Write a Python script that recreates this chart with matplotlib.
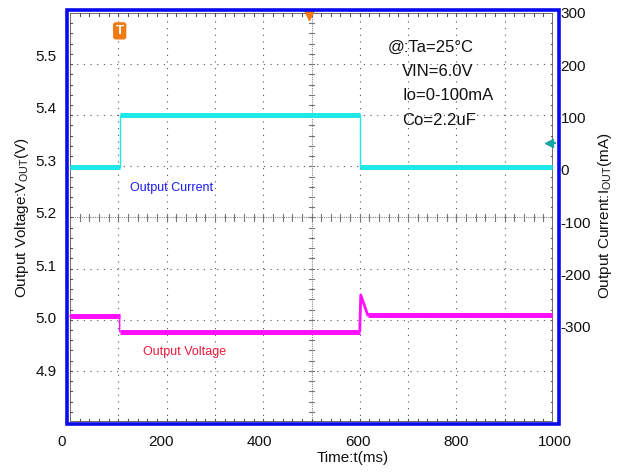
import numpy as np
import matplotlib
matplotlib.use("Agg")
import matplotlib.pyplot as plt
from matplotlib.patches import Rectangle

plt.rcParams['font.family'] = ['Liberation Sans', 'DejaVu Sans']
plt.rcParams['axes.unicode_minus'] = False

# trace data
cur_t = [16, 117, 117, 604, 604, 994]          # ms
cur_mA = [5, 5, 105, 105, 5, 5]                # mA
volt_t = [16, 117, 117, 604, 604, 606, 620, 994]
volt_v = [5.003, 5.003, 4.973, 4.973, 4.975, 5.043, 5.005, 5.005]

x_ticks = [0, 200, 400, 600, 800, 1000]
v_ticks = [4.9, 5.0, 5.1, 5.2, 5.3, 5.4, 5.5]
i_ticks = [-300, -200, -100, 0, 100, 200, 300]

notes = ["@:Ta=25°C", "VIN=6.0V", "Io=0-100mA", "Co=2.2uF"]

W, H = 628, 473
fig = plt.figure(figsize=(W / 100, H / 100), dpi=100)


def px_box(x0, y0, x1, y1):
    # pixel box (top-left origin) -> figure fraction rect
    return [x0 / W, 1 - y1 / H, (x1 - x0) / W, (y1 - y0) / H]


# scope grid
ag = fig.add_axes(px_box(70, 13, 553, 422), zorder=0)
ag.set_xlim(0, 10)
ag.set_ylim(0, 8)
ag.axis('off')
gc = '#555555'
for k in range(1, 10):
    if k != 5:
        ag.plot([k, k], [0, 8], color=gc, lw=0.8, ls=(0, (1, 5)))
for k in range(1, 8):
    if k != 4:
        ag.plot([0, 10], [k, k], color=gc, lw=0.8, ls=(0, (1, 5)))
ag.plot([5, 5], [0, 8], color='#888888', lw=0.8, ls=(0, (1, 1)))
ag.plot([0, 10], [4, 4], color='#888888', lw=0.8, ls=(0, (1, 1)))
for m in np.arange(0.2, 10, 0.2):
    ag.plot([m, m], [3.93, 4.07], color='#777777', lw=0.8)
    ag.plot([m, m], [0, 0.05], color=gc, lw=0.8)
    ag.plot([m, m], [7.95, 8], color=gc, lw=0.8)
for m in np.arange(0.2, 8, 0.2):
    ag.plot([4.94, 5.06], [m, m], color='#777777', lw=0.8)
    ag.plot([0, 0.04], [m, m], color=gc, lw=0.8)
    ag.plot([9.96, 10], [m, m], color=gc, lw=0.8)
ag.add_patch(Rectangle((0, 0), 10, 8, fill=False, ec='#555555', lw=1.2))

# data axes
ax = fig.add_axes(px_box(62, 13, 555, 422), zorder=2)
ax.patch.set_visible(False)
ax.set_xlim(0, 1000)
ax.set_ylim(4.801, 5.580)
for s in ax.spines.values():
    s.set_visible(False)
ax2 = ax.twinx()
ax2.set_ylim(-482, 300)
for s in ax2.spines.values():
    s.set_visible(False)

cyan = '#1ee8e8'
mag = '#ff11ff'

ax2.plot(cur_t, cur_mA, color=cyan, lw=1.0)
for a in (0, 2, 4):
    ax2.plot(cur_t[a:a + 2], cur_mA[a:a + 2], color=cyan, lw=3.6,
             solid_capstyle='butt')
ax.plot(volt_t, volt_v, color=mag, lw=1.0)
ax.plot(volt_t[4:7], volt_v[4:7], color=mag, lw=2.0)
for a in (0, 2, 6):
    ax.plot(volt_t[a:a + 2], volt_v[a:a + 2], color=mag, lw=3.6,
            solid_capstyle='butt')

ax.set_xticks(x_ticks)
ax.set_yticks(v_ticks)
ax.set_yticklabels([f"{v:.1f}" for v in v_ticks])
ax2.set_yticks(i_ticks)
ax.tick_params(axis='both', length=0, labelsize=11, colors='#111111')
ax.tick_params(axis='x', pad=9)
ax.tick_params(axis='y', pad=4)
ax2.tick_params(axis='y', length=0, labelsize=11, colors='#111111', pad=4)

# markers
ax.text(117, 5.546, 'T', color='white', fontsize=9.5, fontweight='bold',
        ha='center', va='center',
        bbox=dict(boxstyle='round,pad=0.2', fc='#f07a14', ec='none'))
ax.plot([500], [5.577], marker='v', color='#f07a14', ms=7, clip_on=False)
ax2.plot([988], [52], marker='<', color='#1aa5a5', ms=6, clip_on=False)
ax2.plot([988, 1000], [52, 52], color='#1aa5a5', lw=1.5, clip_on=False)

# labels on the trace
ax2.text(138, -34, 'Output Current', color='#1a1aff', fontsize=9,
         va='center')
ax.text(165, 4.934, 'Output Voltage', color='#f0183c', fontsize=9,
        va='center', ha='left')

for k, s in enumerate(notes):
    fig.text((388 if k == 0 else 402) / W, 1 - (47 + 24.5 * k) / H, s,
             fontsize=12, va='center', ha='left', color='#111111')

# blue frame
fig.patches.append(Rectangle((66.8 / W, 1 - 423.5 / H), (558.5 - 66.8) / W,
                             (423.5 - 9.8) / H, transform=fig.transFigure,
                             fill=False, ec='#0a0aee', lw=2.6, zorder=5))

fig.text(353 / W, 1 - 458 / H, 'Time:t(ms)', fontsize=11,
         ha='center', va='center', color='#111111')
fig.text(22 / W, 1 - 218 / H, r'Output Voltage:V$_{\mathregular{OUT}}$(V)',
         fontsize=11, rotation=90, ha='center', va='center', color='#111111')
fig.text(605 / W, 1 - 216 / H, r'Output Current:I$_{\mathregular{OUT}}$(mA)',
         fontsize=11, rotation=90, ha='center', va='center', color='#111111')

fig.savefig('out.png', dpi=100)
